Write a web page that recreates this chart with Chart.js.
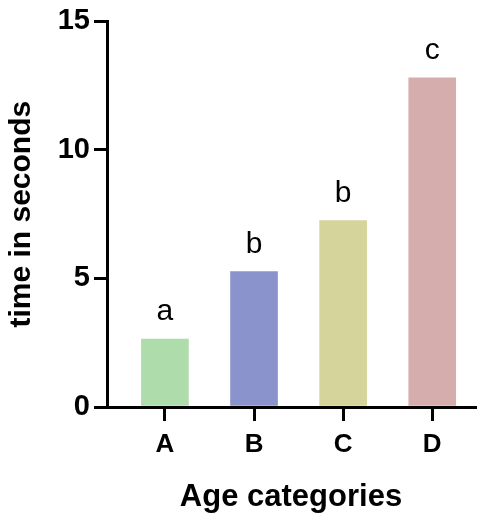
<!DOCTYPE html>
<html lang="en">
<head>
    <meta charset="UTF-8">
    <title>Age categories</title>
    <script src="https://cdn.jsdelivr.net/npm/chart.js"></script>
    <style>
        html, body { margin: 0; padding: 0; background: #fff; }
        #wrap { width: 484px; height: 520px; }
    </style>
</head>
<body>
    <div id="wrap">
        <canvas id="barChart" width="484" height="520"></canvas>
    </div>

    <script>
        // values
        const categories = ['A', 'B', 'C', 'D'];
        const times = [2.64, 5.27, 7.25, 12.8];
        const groupLetters = ['a', 'b', 'b', 'c'];
        const barColors = ['#aedcab', '#8a93cb', '#d5d49a', '#d6adad'];
        const yTicks = [0, 5, 10, 15];

        const FONT = '"Liberation Sans", Arial, sans-serif';

        // letters above each bar
        const letterPlugin = {
            id: 'letters',
            afterDatasetsDraw(chart) {
                const ctx = chart.ctx;
                const meta = chart.getDatasetMeta(0);
                ctx.save();
                ctx.font = '30px ' + FONT;
                ctx.fillStyle = '#000';
                ctx.textAlign = 'center';
                ctx.textBaseline = 'alphabetic';
                meta.data.forEach((bar, i) => {
                    ctx.fillText(groupLetters[i], bar.x, bar.y - 19);
                });
                ctx.restore();
            }
        };

        const ctx = document.getElementById('barChart').getContext('2d');
        new Chart(ctx, {
            type: 'bar',
            data: {
                datasets: [{
                    data: categories.map((c, i) => ({ x: i, y: times[i] })),
                    backgroundColor: barColors,
                    borderWidth: 0,
                    barThickness: 47
                }]
            },
            options: {
                responsive: false,
                animation: false,
                layout: { padding: { top: 8, right: 9, left: 0, bottom: 0 } },
                plugins: {
                    legend: { display: false },
                    tooltip: { enabled: false }
                },
                scales: {
                    x: {
                        type: 'linear',
                        offset: false,
                        min: -0.65,
                        max: 3.48,
                        afterBuildTicks: (scale) => {
                            scale.ticks = categories.map((c, i) => ({ value: i }));
                        },
                        afterFit: (scale) => { scale.height = 113; },
                        border: { display: true, color: '#000', width: 3 },
                        grid: {
                            display: true,
                            offset: false,
                            drawOnChartArea: false,
                            drawTicks: true,
                            tickLength: 14,
                            lineWidth: 3,
                            color: '#000'
                        },
                        ticks: {
                            color: '#000',
                            padding: 8,
                            maxRotation: 0,
                            font: { family: FONT, size: 26, weight: 'bold' },
                            callback: (v) => categories[v]
                        },
                        title: {
                            display: true,
                            text: 'Age categories',
                            color: '#000',
                            padding: { top: 20 },
                            font: { family: FONT, size: 31, weight: 'bold' }
                        }
                    },
                    y: {
                        min: 0,
                        max: 15,
                        afterBuildTicks: (scale) => {
                            scale.ticks = yTicks.map(v => ({ value: v }));
                        },
                        afterFit: (scale) => { scale.width = 107; },
                        border: { display: true, color: '#000', width: 3 },
                        grid: {
                            display: true,
                            drawOnChartArea: false,
                            drawTicks: true,
                            tickLength: 13,
                            lineWidth: 3,
                            color: '#000'
                        },
                        ticks: {
                            color: '#000',
                            padding: 4,
                            font: { family: FONT, size: 29, weight: 'bold' }
                        },
                        title: {
                            display: true,
                            text: 'time in seconds',
                            color: '#000',
                            padding: { bottom: 2 },
                            font: { family: FONT, size: 30, weight: 'bold' }
                        }
                    }
                }
            },
            plugins: [letterPlugin]
        });
    </script>
</body>
</html>
